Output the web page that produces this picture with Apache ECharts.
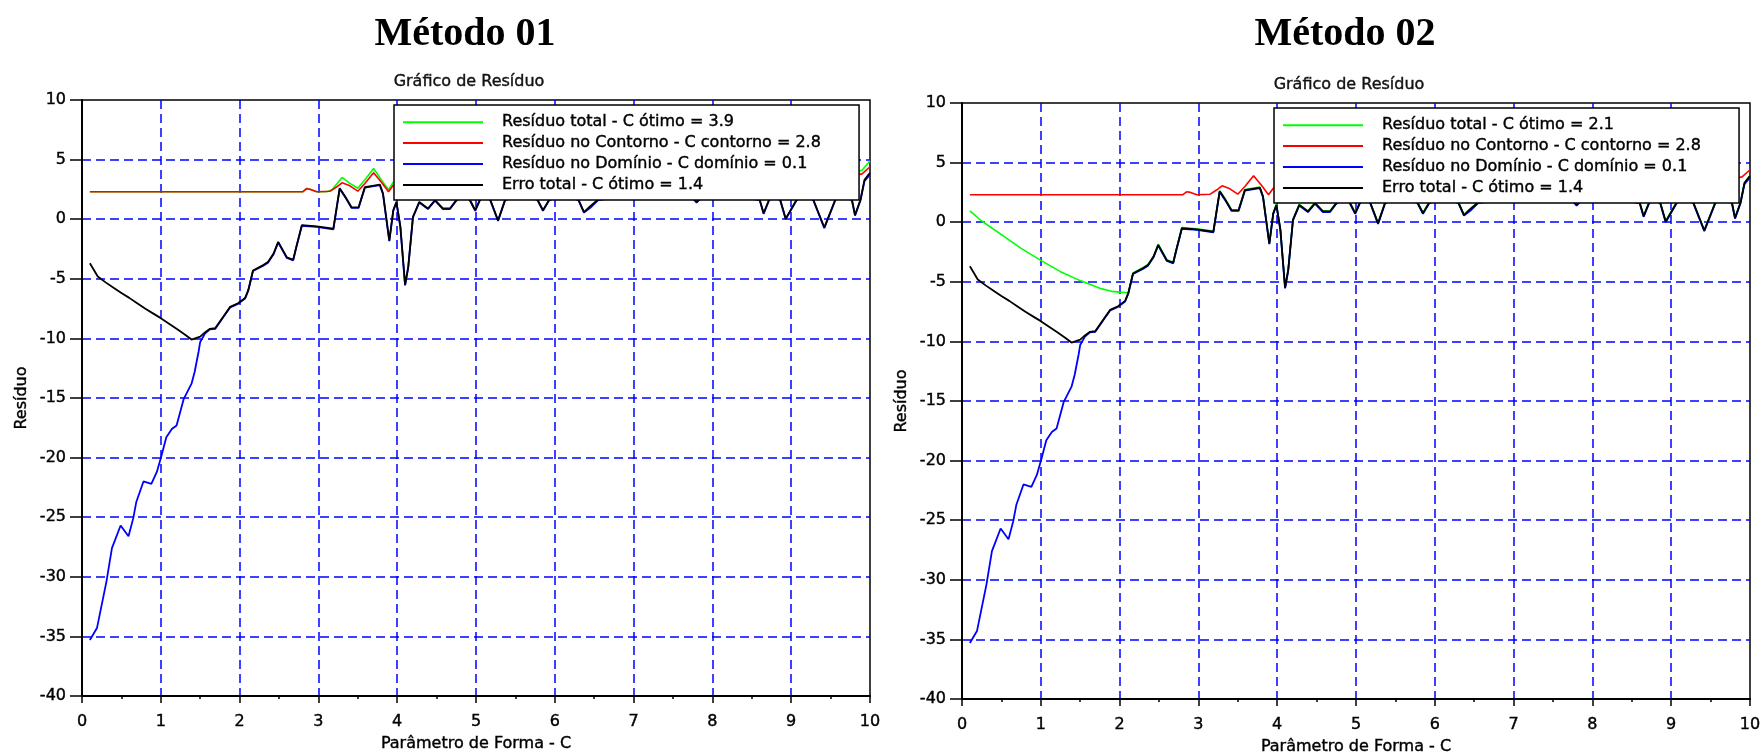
<!DOCTYPE html>
<html>
<head>
<meta charset="utf-8">
<script src="https://cdn.jsdelivr.net/npm/echarts@6/dist/echarts.min.js"></script>
<style>
  html, body { margin: 0; padding: 0; background: #fff; }
  #chart { width: 1762px; height: 754px; }
</style>
</head>
<body>
<div id="chart"></div>
<script>
// Panel texts
const panelTitles = ['Método 01', 'Método 02'];
const plotTitle = 'Gráfico de Resíduo';
const xAxisName = 'Parâmetro de Forma - C';
const yAxisName = 'Resíduo';
const legendNames01 = [
  'Resíduo total - C ótimo = 3.9',
  'Resíduo no Contorno - C contorno = 2.8',
  'Resíduo no Domínio - C domínio = 0.1',
  'Erro total - C ótimo = 1.4'
];
const legendNames02 = [
  'Resíduo total - C ótimo = 2.1',
  'Resíduo no Contorno - C contorno = 2.8',
  'Resíduo no Domínio - C domínio = 0.1',
  'Erro total - C ótimo = 1.4'
];

// Axis ranges
const xRange = [0, 10, 1];
const yRange = [-40, 10, 5];

// Erro total (black) – same in both methods
const erroX = [0.1,0.2,0.3,0.4,0.5,0.6,0.7,0.8,0.9,1.0,1.1,1.2,1.3,1.39,1.5,1.56,
  1.62,1.69,1.79,1.88,1.98,2.07,2.11,2.17,2.3,2.36,2.43,2.49,2.6,2.68,2.72,2.79,2.98,
  3.19,3.27,3.34,3.42,3.51,3.59,3.78,3.82,3.9,3.95,3.99,4.04,4.1,4.14,4.2,4.28,4.39,
  4.48,4.58,4.67,4.75,4.83,4.92,4.99,5.05,5.12,5.18,5.28,5.37,5.6,5.78,5.85,5.93,6.1,
  6.3,6.37,6.45,6.55,7.1,7.75,7.8,7.85,8.2,8.6,8.65,8.72,8.79,8.86,8.93,9.07,9.17,
  9.28,9.42,9.56,9.65,9.77,9.81,9.88,9.93,10.0];
const erroY = [-3.7,-4.8,-5.3,-5.75,-6.2,-6.6,-7.05,-7.5,-7.9,-8.3,-8.75,-9.2,-9.65,-10.1,-9.85,-9.5,
  -9.2,-9.15,-8.2,-7.35,-7.05,-6.6,-5.95,-4.3,-3.85,-3.6,-2.9,-1.9,-3.2,-3.4,-2.3,-0.5,-0.6,
  -0.8,2.6,1.9,1.0,1.0,2.7,2.9,2.15,-1.8,0.75,1.45,-0.6,-5.5,-4.0,0.2,1.45,0.9,
  1.6,0.9,0.9,1.6,2.0,1.65,0.75,1.65,2.0,1.65,-0.1,1.65,2.1,1.65,0.75,1.65,2.0,
  1.65,0.6,1.1,1.65,2.1,1.8,1.45,1.8,2.0,1.65,0.5,1.65,1.9,1.65,0.05,1.65,2.0,
  1.65,-0.7,1.65,2.0,1.65,0.35,1.65,3.3,3.9];

// Resíduo no Domínio (blue) – same in both methods
const dominioX = [0.1,0.19,0.31,0.38,0.49,0.59,0.65,0.69,0.78,0.88,0.95,1.01,1.07,1.14,1.2,
  1.29,1.39,1.43,1.48,1.5,1.56,
  1.62,1.69,1.79,1.88,1.98,2.07,2.11,2.17,2.3,2.36,2.43,2.49,2.6,2.68,2.72,2.79,2.98,
  3.19,3.27,3.34,3.42,3.51,3.59,3.78,3.82,3.9,3.95,3.99,4.04,4.1,4.14,4.2,4.28,4.39,
  4.48,4.58,4.67,4.75,4.83,4.92,4.99,5.05,5.12,5.18,5.28,5.37,5.6,5.78,5.85,5.93,6.1,
  6.3,6.37,6.45,6.55,7.1,7.75,7.8,7.85,8.2,8.6,8.65,8.72,8.79,8.86,8.93,9.07,9.17,
  9.28,9.42,9.56,9.65,9.77,9.81,9.88,9.93,10.0];
const dominioY = [-35.3,-34.3,-30.4,-27.6,-25.7,-26.6,-25.1,-23.7,-22.0,-22.2,-21.2,-19.8,-18.3,-17.6,-17.3,
  -15.1,-13.8,-12.8,-11.1,-10.3,-9.6,
  -9.25,-9.2,-8.25,-7.4,-7.1,-6.65,-6.0,-4.35,-3.9,-3.65,-2.95,-1.95,-3.25,-3.45,-2.35,-0.55,-0.65,
  -0.85,2.55,1.85,0.95,0.95,2.65,2.85,2.1,-1.85,0.7,1.4,-0.65,-5.55,-4.05,0.15,1.4,0.85,
  1.55,0.85,0.85,1.55,2.0,1.6,0.7,1.6,2.0,1.6,-0.15,1.6,2.1,1.6,0.7,1.6,2.0,
  1.6,0.55,0.95,1.6,2.1,1.75,1.4,1.75,2.0,1.6,0.45,1.6,1.85,1.6,0.0,1.6,2.0,
  1.6,-0.75,1.6,2.0,1.6,0.3,1.6,3.2,3.75];

// Resíduo no Contorno (red) – same in both methods
const contornoX = [0.1,0.5,1.0,1.5,2.0,2.5,2.8,2.85,2.9,2.98,3.15,3.23,3.3,3.4,3.5,3.59,3.7,3.8,
  3.89,3.95,4.2,5.0,6.0,7.0,8.0,9.0,9.9,10.0];
const contornoY = [2.3,2.3,2.3,2.3,2.3,2.3,2.3,2.55,2.5,2.3,2.35,2.7,3.05,2.8,2.35,3.0,3.9,3.1,
  2.3,2.85,2.6,2.5,2.5,2.4,2.5,2.6,3.8,4.4];

// Resíduo total (green), Método 01
const total01X = [0.1,0.5,1.0,1.5,2.0,2.5,2.8,2.85,2.9,2.98,3.1,3.17,3.3,3.4,3.5,3.6,3.7,3.8,
  3.89,3.95,4.2,5.0,6.0,7.0,8.0,9.0,9.9,10.0];
const total01Y = [2.3,2.3,2.3,2.3,2.3,2.3,2.3,2.6,2.5,2.3,2.3,2.45,3.5,3.0,2.6,3.4,4.25,3.3,
  2.45,3.1,2.9,2.8,2.8,2.7,2.8,2.9,4.1,4.9];

// Resíduo total (green), Método 02
const total02X = [0.1,0.25,0.5,0.75,1.0,1.25,1.5,1.75,1.9,2.0,2.07,2.11,
  2.17,2.3,2.36,2.43,2.49,2.6,2.68,2.72,2.79,2.98,
  3.19,3.27,3.34,3.42,3.51,3.59,3.78,3.82,3.9,3.95,3.99,4.04,4.1,4.14,4.2,4.28,4.39,
  4.48,4.58,4.67,4.75,4.83,4.92,4.99,5.05,5.12,5.18,5.28,5.37,5.6,5.78,5.85,5.93,6.1,
  6.3,6.37,6.45,6.55,7.1,7.75,7.8,7.85,8.2,8.6,8.65,8.72,8.79,8.86,8.93,9.07,9.17,
  9.28,9.42,9.56,9.65,9.77,9.81,9.88,9.93,10.0];
const total02Y = [0.95,0.1,-1.05,-2.2,-3.2,-4.15,-4.9,-5.55,-5.8,-5.87,-5.9,-5.95,
  -4.25,-3.8,-3.55,-2.85,-1.85,-3.15,-3.35,-2.25,-0.45,-0.55,
  -0.75,2.65,1.95,1.05,1.05,2.75,2.95,2.2,-1.75,0.8,1.5,-0.55,-5.45,-3.95,0.25,1.5,0.95,
  1.65,0.95,0.95,1.65,2.05,1.7,0.8,1.7,2.05,1.7,-0.05,1.7,2.15,1.7,0.8,1.7,2.05,
  1.7,0.65,1.15,1.7,2.15,1.85,1.5,1.85,2.05,1.7,0.55,1.7,1.95,1.7,0.1,1.7,2.05,
  1.7,-0.65,1.7,2.05,1.7,0.4,1.7,3.3,3.9];

const COLORS = { total: '#00ff00', contorno: '#ff0000', dominio: '#0000ff', erro: '#000000' };
const FONT = 'DejaVu Sans';

function pairs(xs, ys) { return xs.map((x, i) => [x, ys[i]]); }

// Layout of the two panels
const panels = [
  { left: 82, top: 100, legendLeft: 394, legendTop: 105, titleX: 465, titleY: 35, subY: 82, names: legendNames01, totalX: total01X, totalY: total01Y },
  { left: 962, top: 103, legendLeft: 1274, legendTop: 108, titleX: 1345, titleY: 35, subY: 85, names: legendNames02, totalX: total02X, totalY: total02Y }
];
const plotW = 788, plotH = 596;

// Small labels: regular face with a hairline outline for a slightly heavier stroke
const smallText = { fontFamily: FONT, fontSize: 16, fontWeight: 'normal', color: '#000',
  textBorderColor: '#000', textBorderWidth: 0.4 };

const grids = [], xAxes = [], yAxes = [], legends = [], series = [], graphics = [];

panels.forEach((p, i) => {
  grids.push({ left: p.left, top: p.top, width: plotW, height: plotH, show: true,
    containLabel: false, outerBoundsMode: 'none',
    borderColor: '#000', borderWidth: 1.5, backgroundColor: 'transparent' });

  xAxes.push({
    type: 'value', gridIndex: i, min: xRange[0], max: xRange[1], interval: xRange[2],
    name: xAxisName, nameLocation: 'middle', nameGap: 40, nameTextStyle: smallText,
    axisLine: { show: true, onZero: false, lineStyle: { color: '#000', width: 2 } },
    axisTick: { show: true, length: 7, lineStyle: { color: '#000', width: 1.5 } },
    minorTick: { show: true, splitNumber: 2, length: 3, lineStyle: { color: '#000', width: 1.5 } },
    axisLabel: Object.assign({ margin: 18 }, smallText),
    splitLine: { show: true, showMinLine: false, showMaxLine: false,
      lineStyle: { color: '#0000ff', type: [9, 5], width: 1.5 } }
  });

  yAxes.push({
    type: 'value', gridIndex: i, min: yRange[0], max: yRange[1], interval: yRange[2],
    name: yAxisName, nameLocation: 'middle', nameGap: 52, nameRotate: 90, nameTextStyle: smallText,
    axisLine: { show: true, onZero: false, lineStyle: { color: '#000', width: 2 } },
    axisTick: { show: true, length: 12, lineStyle: { color: '#000', width: 1.5 } },
    // tick numbers sit a little below their tick marks
    axisLabel: Object.assign({ margin: 16, padding: [9, 0, 0, 0] }, smallText),
    splitLine: { show: true, showMinLine: false, showMaxLine: false,
      lineStyle: { color: '#0000ff', type: [9, 5], width: 1.5 } }
  });

  legends.push({
    orient: 'vertical', left: p.legendLeft, top: p.legendTop,
    data: p.names, selectedMode: false,
    icon: 'rect', itemWidth: 80, itemHeight: 2, itemGap: 4.5,
    backgroundColor: '#fff', borderColor: '#000', borderWidth: 1.5,
    padding: [9, 38, 7, 9],
    textStyle: Object.assign({ lineHeight: 16, padding: [0, 0, 0, 14] }, smallText)
  });

  const common = { type: 'line', xAxisIndex: i, yAxisIndex: i, symbol: 'none', showSymbol: false,
    animation: false, silent: true };
  series.push(Object.assign({}, common, { name: p.names[0], data: pairs(p.totalX, p.totalY),
    lineStyle: { color: COLORS.total, width: 1.6 }, itemStyle: { color: COLORS.total } }));
  series.push(Object.assign({}, common, { name: p.names[1], data: pairs(contornoX, contornoY),
    lineStyle: { color: COLORS.contorno, width: 1.6 }, itemStyle: { color: COLORS.contorno } }));
  series.push(Object.assign({}, common, { name: p.names[2], data: pairs(dominioX, dominioY),
    lineStyle: { color: COLORS.dominio, width: 1.8 }, itemStyle: { color: COLORS.dominio } }));
  series.push(Object.assign({}, common, { name: p.names[3], data: pairs(erroX, erroY),
    lineStyle: { color: COLORS.erro, width: 1.8 }, itemStyle: { color: COLORS.erro } }));

  graphics.push({ type: 'text', x: p.titleX, y: p.titleY,
    style: { text: panelTitles[i], font: 'bold 40px "Liberation Serif"', fill: '#000',
      textAlign: 'center', textVerticalAlign: 'middle', align: 'center', verticalAlign: 'middle' } });
  graphics.push({ type: 'text', x: p.titleX + 4, y: p.subY,
    style: { text: plotTitle, font: '16px "DejaVu Sans"', fill: '#111', stroke: '#111', lineWidth: 0.4,
      textAlign: 'center', textVerticalAlign: 'middle', align: 'center', verticalAlign: 'middle' } });
});

const chart = echarts.init(document.getElementById('chart'), null, { renderer: 'canvas' });
chart.setOption({
  backgroundColor: '#fff',
  animation: false,
  grid: grids,
  xAxis: xAxes,
  yAxis: yAxes,
  legend: legends,
  series: series,
  graphic: graphics
});
</script>
</body>
</html>
